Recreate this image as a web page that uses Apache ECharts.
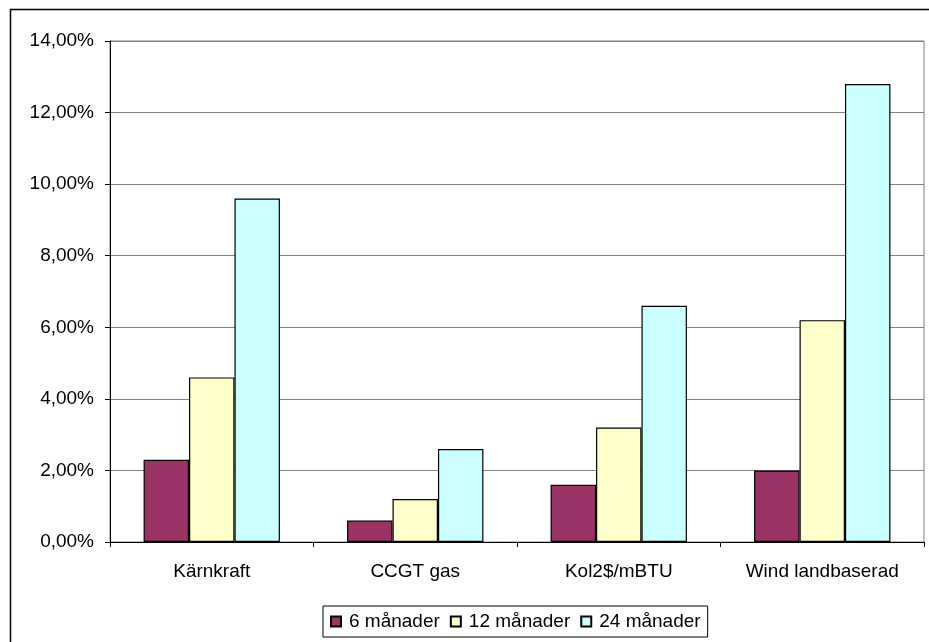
<!DOCTYPE html>
<html>
<head>
<meta charset="utf-8">
<script src="https://cdn.jsdelivr.net/npm/echarts@6/dist/echarts.min.js"></script>
<style>
html,body{margin:0;padding:0;background:#fff;}
#c{width:929px;height:642px;}
</style>
</head>
<body>
<div id="c"></div>
<script>
const categories = ['Kärnkraft', 'CCGT gas', 'Kol2$/mBTU', 'Wind landbaserad'];
const seriesNames = ['6 månader', '12 månader', '24 månader'];
const s6 = [2.3, 0.6, 1.6, 2.0];
const s12 = [4.6, 1.2, 3.2, 6.2];
const s24 = [9.6, 2.6, 6.6, 12.8];
const colors = ['#993366', '#FFFFCC', '#CCFFFF'];

const chart = echarts.init(document.getElementById('c'), null, {renderer: 'canvas'});
const font = 'Liberation Sans, Arial, sans-serif';
function mk(name, data, color) {
  return {
    name: name, type: 'bar', data: data,
    barGap: '0%', barCategoryGap: '33%',
    itemStyle: {color: color, borderColor: '#000', borderWidth: 1.2},
    emphasis: {disabled: true}
  };
}
chart.setOption({
  animation: false,
  textStyle: {fontFamily: font},
  graphic: [{
    type: 'rect', silent: true, z: 100,
    shape: {x: 10.5, y: 9.5, width: 2000, height: 2000},
    style: {fill: 'none', stroke: '#000', lineWidth: 1.5}
  }],
  grid: {left: 110, top: 41, right: 5, bottom: 100, show: true, borderColor: '#808080', borderWidth: 1, backgroundColor: 'transparent'},
  legend: {
    data: seriesNames, left: 323, top: 606, orient: 'horizontal',
    padding: [6, 7, 6, 7], itemGap: 10, itemWidth: 10, itemHeight: 10, icon: 'rect',
    borderColor: '#000', borderWidth: 1,
    textStyle: {fontSize: 19, color: '#000', fontFamily: font, padding: [0, 0, 0, 3]}
  },
  xAxis: {
    type: 'category', data: categories,
    axisLine: {lineStyle: {color: '#000', width: 1}},
    axisTick: {show: true, alignWithLabel: false, length: 5, lineStyle: {color: '#000'}},
    axisLabel: {fontSize: 19, color: '#000', margin: 20, fontFamily: font},
    splitLine: {show: false}
  },
  yAxis: {
    type: 'value', min: 0, max: 14, interval: 2,
    axisLine: {show: true, lineStyle: {color: '#000', width: 1}},
    axisTick: {show: true, length: 5, lineStyle: {color: '#000'}},
    axisLabel: {fontSize: 19, color: '#000', margin: 16, fontFamily: font,
      formatter: v => v.toFixed(2).replace('.', ',') + '%'},
    splitLine: {show: true, lineStyle: {color: '#808080', width: 1}}
  },
  series: [mk(seriesNames[0], s6, colors[0]), mk(seriesNames[1], s12, colors[1]), mk(seriesNames[2], s24, colors[2])]
});
</script>
</body>
</html>
